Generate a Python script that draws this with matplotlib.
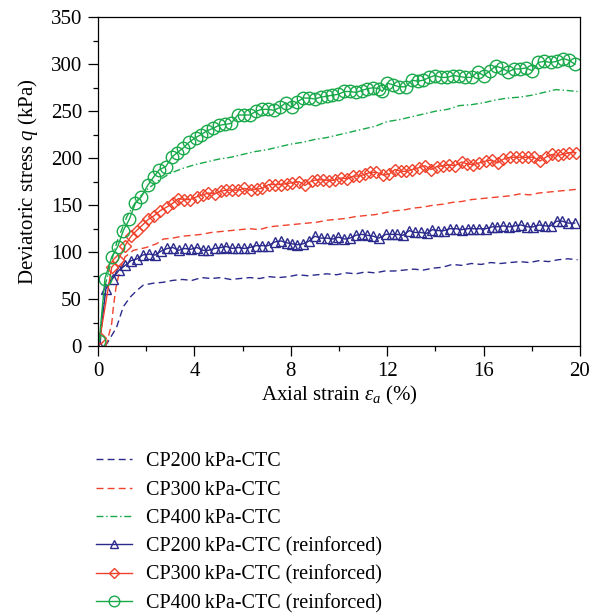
import numpy as np
import matplotlib
matplotlib.use("Agg")
from matplotlib import pyplot as plt
from matplotlib.ticker import MultipleLocator

plt.rcParams['font.family'] = ['Liberation Serif', 'DejaVu Serif']
plt.rcParams['mathtext.fontset'] = 'custom'
plt.rcParams['mathtext.rm'] = 'Liberation Serif'
plt.rcParams['mathtext.it'] = 'Liberation Serif:italic'

c_blue = '#2b2a8c'
c_red = '#f0412a'
c_green = '#19a94a'

# unreinforced tests (dashed)
x_cp200 = [0.3, 0.47, 0.77, 1.05, 1.33, 1.6, 1.88, 2.29, 2.71, 3.1, 3.5, 3.9, 4.3, 4.7, 5.1, 5.5,
           5.9, 6.3, 6.7, 7.1, 7.5, 7.9, 8.3, 8.7, 9.1, 9.5, 9.9, 10.3, 10.7, 11.1, 11.5, 11.9,
           12.3, 12.7, 13.1, 13.5, 13.9, 14.3, 14.7, 15.1, 15.5, 15.9, 16.3, 16.7, 17.1, 17.5,
           17.9, 18.3, 18.7, 19.1, 19.5, 19.9]
q_cp200 = [0, 7, 20, 42, 52, 59, 65, 67, 68, 70, 71, 70, 73, 72, 73, 71, 72, 73, 72, 74, 73,
           74, 76, 75, 76, 77, 76, 78, 77, 79, 78, 80, 80, 81, 82, 81, 83, 84, 87, 86, 88, 87,
           89, 88, 89, 90, 89, 91, 90, 92, 93, 92]

x_cp300 = [0.3, 0.36, 0.57, 0.64, 0.75, 0.91, 1.12, 1.47, 2.0, 2.43, 2.71, 3.1, 3.5, 3.9, 4.3,
           4.7, 5.1, 5.5, 5.9, 6.3, 6.7, 7.1, 7.5, 7.9, 8.3, 8.7, 9.1, 9.5, 9.9, 10.3, 10.7,
           11.1, 11.5, 11.9, 12.3, 12.7, 13.1, 13.5, 13.9, 14.3, 14.7, 15.1, 15.5, 15.9, 16.3,
           16.7, 17.1, 17.5, 17.9, 18.3, 18.7, 19.1, 19.5, 19.9]
q_cp300 = [0, 3, 24, 42, 63, 81, 95, 102, 105, 109, 114, 115, 117, 118, 119, 121, 122, 123,
           124, 125, 124, 127, 128, 129, 130, 131, 132, 134, 135, 136, 138, 139, 140, 142, 144,
           145, 147, 148, 150, 151, 153, 154, 156, 157, 158, 159, 160, 162, 161, 163, 164, 165,
           166, 167]

x_cp400 = [0.1, 0.2, 0.3, 0.5, 0.8, 1.2, 1.6, 2.0, 2.5, 3.0, 3.5, 4.0, 4.5, 5.0, 5.5, 6.0, 6.5,
           7.0, 7.5, 8.0, 8.5, 9.0, 9.5, 10.0, 10.5, 11.0, 11.5, 12.0, 12.5, 13.0, 13.5, 14.0,
           14.5, 15.0, 15.5, 16.0, 16.5, 17.0, 17.5, 18.0, 18.5, 19.0, 19.5, 19.9]
q_cp400 = [5, 40, 65, 85, 112, 138, 155, 166, 176, 184, 189, 193, 196, 199, 201, 204, 207,
           209, 212, 215, 217, 220, 222, 225, 228, 231, 234, 239, 241, 244, 247, 250, 252, 256,
           257, 259, 262, 264, 265, 267, 270, 273, 272, 271]

# reinforced tests (markers)
x_r200 = [0.05, 0.33, 0.61, 0.88, 1.13, 1.37, 1.63, 1.85, 2.13, 2.37, 2.61, 2.88, 3.1, 3.35,
          3.6, 3.84, 4.1, 4.36, 4.58, 4.84, 5.1, 5.33, 5.58, 5.82, 6.07, 6.3, 6.56, 6.82, 7.06,
          7.34, 7.59, 7.83, 8.04, 8.27, 8.52, 8.77, 9.0, 9.24, 9.5, 9.74, 9.98, 10.22, 10.46,
          10.7, 10.94, 11.17, 11.42, 11.66, 11.95, 12.18, 12.41, 12.66, 12.92, 13.15, 13.4,
          13.64, 13.88, 14.1, 14.36, 14.6, 14.85, 15.09, 15.34, 15.58, 15.82, 16.09, 16.34,
          16.57, 16.82, 17.07, 17.31, 17.55, 17.81, 18.07, 18.31, 18.55, 18.78, 19.03, 19.27,
          19.5, 19.78]
q_r200 = [1, 61, 72, 81, 86, 91, 93, 97, 98, 97, 101, 104, 105, 102, 104, 103, 105, 102, 102,
          104, 105, 106, 104, 105, 104, 105, 107, 107, 107, 111, 112, 110, 109, 108, 109, 112,
          117, 115, 115, 114, 116, 114, 115, 118, 119, 118, 117, 115, 119, 119, 119, 118, 123,
          121, 121, 120, 124, 123, 123, 125, 125, 124, 125, 125, 125, 125, 127, 127, 128, 127,
          128, 129, 127, 127, 129, 128, 128, 133, 133, 131, 131]

x_r300 = [0.08, 0.57, 0.84, 1.12, 1.37, 1.6, 1.85, 2.09, 2.34, 2.57, 2.85, 3.1, 3.33, 3.58,
          3.82, 4.1, 4.34, 4.58, 4.84, 5.09, 5.33, 5.58, 5.82, 6.07, 6.33, 6.58, 6.82, 7.08,
          7.34, 7.59, 7.83, 8.07, 8.35, 8.59, 8.87, 9.1, 9.35, 9.6, 9.84, 10.08, 10.34, 10.6,
          10.84, 11.08, 11.3, 11.55, 11.84, 12.08, 12.32, 12.57, 12.8, 13.05, 13.33, 13.57,
          13.82, 14.05, 14.33, 14.56, 14.81, 15.09, 15.32, 15.57, 15.82, 16.09, 16.34, 16.58,
          16.82, 17.1, 17.34, 17.58, 17.85, 18.08, 18.34, 18.58, 18.83, 19.07, 19.3, 19.56,
          19.83]
q_r300 = [9, 84, 92, 107, 117, 123, 129, 135, 139, 144, 148, 152, 157, 156, 156, 159, 161,
          163, 162, 165, 166, 166, 166, 168, 166, 167, 168, 172, 172, 172, 173, 174, 175, 171,
          176, 177, 177, 176, 177, 179, 178, 181, 181, 183, 185, 185, 182, 183, 188, 186, 186,
          188, 190, 192, 188, 191, 192, 193, 192, 196, 194, 193, 195, 197, 198, 195, 199, 201,
          201, 201, 201, 201, 197, 201, 204, 203, 204, 206, 206]

x_r400 = [0.05, 0.29, 0.57, 0.82, 1.05, 1.3, 1.55, 1.8, 2.06, 2.31, 2.55, 2.81, 3.06, 3.29,
          3.54, 3.78, 4.05, 4.27, 4.51, 4.79, 5.02, 5.27, 5.52, 5.8, 6.04, 6.3, 6.56, 6.79,
          7.04, 7.3, 7.55, 7.79, 8.04, 8.27, 8.52, 8.76, 9.0, 9.24, 9.49, 9.72, 9.97, 10.22,
          10.46, 10.7, 10.94, 11.17, 11.42, 11.66, 11.8, 12.0, 12.25, 12.49, 12.77, 13.02,
          13.26, 13.5, 13.75, 13.98, 14.23, 14.5, 14.74, 14.99, 15.24, 15.5, 15.75, 16.0,
          16.27, 16.5, 16.75, 17.03, 17.27, 17.5, 17.76, 18.03, 18.27, 18.52, 18.78, 19.03,
          19.31, 19.56, 19.79]
q_r400 = [5, 72, 95, 106, 123, 135, 152, 159, 171, 180, 188, 191, 201, 206, 211, 217, 222,
          225, 229, 232, 235, 236, 237, 246, 246, 246, 250, 252, 252, 251, 254, 259, 254, 260,
          264, 264, 263, 265, 266, 267, 268, 271, 271, 270, 272, 274, 275, 274, 271, 280, 278,
          276, 276, 283, 282, 283, 286, 288, 286, 286, 288, 287, 286, 286, 292, 288, 293, 298,
          296, 292, 295, 295, 296, 293, 302, 303, 302, 303, 306, 304, 300]

labels = ['CP200\u2009kPa-CTC', 'CP300\u2009kPa-CTC', 'CP400\u2009kPa-CTC',
          'CP200\u2009kPa-CTC (reinforced)', 'CP300\u2009kPa-CTC (reinforced)',
          'CP400\u2009kPa-CTC (reinforced)']

fig = plt.figure(figsize=(5.96, 6.16), dpi=100)
ax = fig.add_axes([0.1644, 0.438, 0.8087, 0.534])

lw = 1.0
ax.plot(x_cp200, q_cp200, '--', c=c_blue, lw=lw, dashes=(5, 3), label=labels[0])
ax.plot(x_cp300, q_cp300, '--', c=c_red, lw=lw, dashes=(5, 3), label=labels[1])
ax.plot(x_cp400, q_cp400, '-.', c=c_green, lw=lw, dashes=(5, 2, 1, 2), label=labels[2])
ax.plot(x_r200, q_r200, '-', c=c_blue, lw=lw, marker='^', ms=7, mfc='none', mew=1.0,
        label=labels[3])
ax.plot(x_r300, q_r300, '-', c=c_red, lw=lw, marker='D', ms=6.5, mfc='none', mew=1.0,
        label=labels[4])
ax.plot(x_r400, q_r400, '-', c=c_green, lw=lw, marker='o', ms=9, mfc='none', mew=1.0,
        label=labels[5])

ax.set_xlim(0, 20)
ax.set_ylim(0, 350)
ax.xaxis.set_major_locator(MultipleLocator(4))
ax.xaxis.set_minor_locator(MultipleLocator(2))
ax.yaxis.set_major_locator(MultipleLocator(50))
ax.yaxis.set_minor_locator(MultipleLocator(25))
ax.tick_params(which='both', direction='out', labelsize=15, top=False, right=False, pad=4)
ax.tick_params(which='major', length=7.5, width=0.9)
ax.tick_params(which='minor', length=3.8, width=0.9)
for s in ax.spines.values():
    s.set_linewidth(0.9)

ax.set_xlabel(r'Axial strain $\varepsilon_a$ (%)', fontsize=15, labelpad=2)
ax.set_ylabel(r'Deviatoric stress $q$ (kPa)', fontsize=15, labelpad=8)

fig.legend(loc='upper left', bbox_to_anchor=(0.145, 0.282), frameon=False, fontsize=14.5,
           handlelength=1.75, handletextpad=0.7, labelspacing=0.45, borderpad=0,
           markerscale=0.85)

plt.savefig("out.png", dpi=100)
